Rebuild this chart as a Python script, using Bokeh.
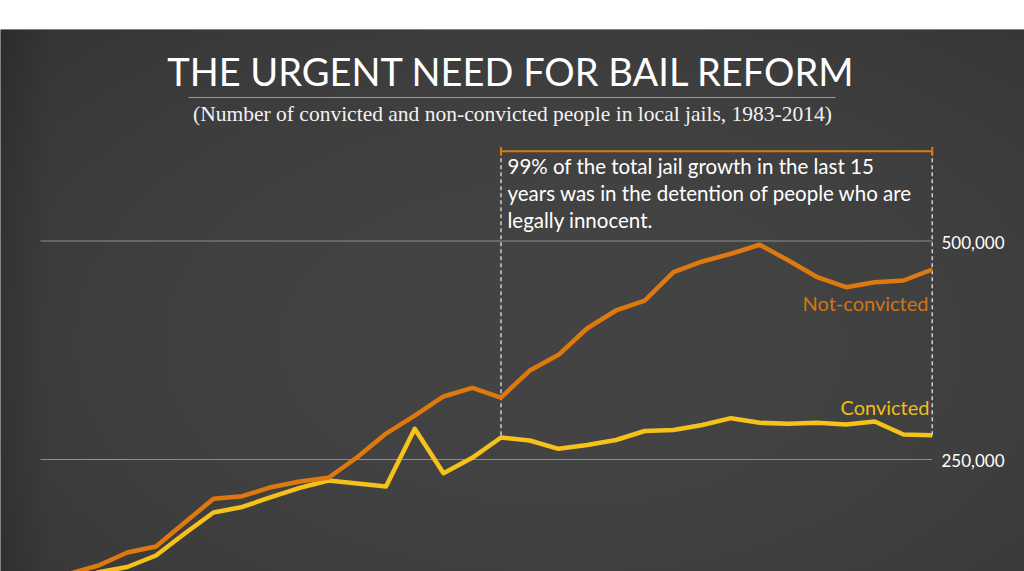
import numpy as np
from bokeh.plotting import figure
from bokeh.models import Range1d
from bokeh.core.properties import value
from bokeh.embed import file_html
from bokeh.resources import INLINE

# ---------------- data ----------------
years = list(range(1983, 2015))
not_convicted = [114000, 119500, 128700, 143600, 150500, 177900, 205000, 208000,
                 218300, 224800, 229100, 252600, 279700, 300300, 322100, 332000,
                 320900, 351800, 369800, 400200, 420500, 431900, 464300, 476600,
                 485400, 495700, 477700, 458600, 447100, 452900, 454800, 467400]
convicted = [104000, 110000, 121000, 127000, 140200, 165300, 189400, 195700,
             206900, 217600, 226000, 222500, 219100, 285100, 234300, 251900,
             275200, 271700, 262200, 266600, 272300, 282600, 283800, 289500,
             297300, 292000, 290800, 292000, 290000, 293500, 278600, 277800]
tick_values = [250000, 500000]
tick_labels = ["250,000", "500,000"]
bracket_years = [1999, 2014]
series_labels = ["Not-convicted", "Convicted"]
title_text = "THE URGENT NEED FOR BAIL REFORM"
subtitle_text = "(Number of convicted and non-convicted people in local jails, 1983-2014)"
note_lines = ["99% of the total jail growth in the last 15",
              "years was in the detention of people who are",
              "legally innocent."]

# ---------------- layout helpers (page pixel -> data) ----------------
W, H = 1024, 571
TOP = 29
PX_PER_YEAR = 28.75
PX_PER_UNIT = 218.5 / 250000.0


def dx(px):
    return 1999 + (px - 500.5) / PX_PER_YEAR


def dy(py):
    return 250000 + (459 - py) / PX_PER_UNIT


ORANGE = "#DE7910"
YELLOW = "#F5C11A"
BG = "#414141"

p = figure(width=W, height=H, output_backend="svg", toolbar_location=None,
           x_range=Range1d(dx(0), dx(W)), y_range=Range1d(dy(H), dy(TOP)),
           x_axis_location=None, y_axis_location=None,
           min_border_top=TOP, min_border_left=0, min_border_right=0,
           min_border_bottom=0, border_fill_color="white",
           background_fill_color=BG, outline_line_color=None)
p.grid.visible = False

# subtle vignette background
nx, ny = 256, 136
gx = np.linspace(0, 1, nx)[None, :]
gy = np.linspace(0, 1, ny)[:, None]  # row 0 = bottom
ddx = (gx - 0.55) / 0.55
ddy = (gy - 0.42) / 0.6
b = 68 - 8 * (ddx ** 2 + ddy ** 2)
b = b - 8 * np.clip(1 - gx / 0.05, 0, 1)
b = np.clip(b, 40, 70).astype(np.uint32)
img = (255 << 24) | (b << 16) | (b << 8) | b
p.image_rgba(image=[img.astype(np.uint32)], x=dx(0), y=dy(H),
             dw=dx(W) - dx(0), dh=dy(TOP) - dy(H))

# gridlines
p.segment(x0=[dx(40)] * len(tick_values), x1=[bracket_years[1]] * len(tick_values),
          y0=tick_values, y1=tick_values, line_color="#8e8e8e", line_width=1.2)

# right-side tick labels
lab_off = 1.0 / PX_PER_UNIT
p.text(x=[dx(941)] * len(tick_values), y=[v - lab_off for v in tick_values],
       text=tick_labels, text_font=value("Lato"), text_font_size="17px",
       text_color="white", text_align="left", text_baseline="alphabetic")

# bracket + dashed guides
by = dy(150.7)
conv_at = [convicted[years.index(y)] for y in bracket_years]
p.segment(x0=bracket_years, x1=bracket_years, y0=[by] * 2, y1=conv_at,
          line_color="#cfcfcf", line_width=1.5, line_dash="4 3")
p.segment(x0=[bracket_years[0]], x1=[bracket_years[1]], y0=[by], y1=[by],
          line_color=ORANGE, line_width=2)
p.segment(x0=bracket_years, x1=bracket_years, y0=[dy(146.5)] * 2, y1=[dy(155)] * 2,
          line_color=ORANGE, line_width=2)

# series
p.line(years, convicted, line_color=YELLOW, line_width=4.5, line_join="round")
p.line(years, not_convicted, line_color=ORANGE, line_width=4.5, line_join="round")

# series labels
p.text(x=[dx(928), dx(929)], y=[dy(302), dy(406.5)], text=series_labels,
       text_font=value("Lato"), text_font_size="20px",
       text_color=["#D47414", "#F0BE1A"], text_align="right",
       text_baseline="alphabetic")

# note
p.text(x=[dx(507)] * 3, y=[dy(165.5), dy(192.5), dy(219.5)], text=note_lines,
       text_font=value("Lato"), text_font_size="20.5px", text_color="white",
       text_align="left", text_baseline="alphabetic")

# title, rule, subtitle
p.text(x=[dx(511)], y=[dy(70)], text=[title_text], text_font=value("Lato"),
       text_font_size="38px", text_color="white", text_align="center",
       text_baseline="alphabetic")
p.segment(x0=[dx(188)], x1=[dx(835)], y0=[dy(97)], y1=[dy(97)],
          line_color="#9a9a9a", line_width=1)
p.text(x=[dx(512)], y=[dy(113)], text=[subtitle_text],
       text_font=value("Liberation Serif"), text_font_size="21.5px",
       text_color="#f2f2f2", text_align="center", text_baseline="alphabetic")

open("out.html", "w").write(file_html(p, INLINE))
